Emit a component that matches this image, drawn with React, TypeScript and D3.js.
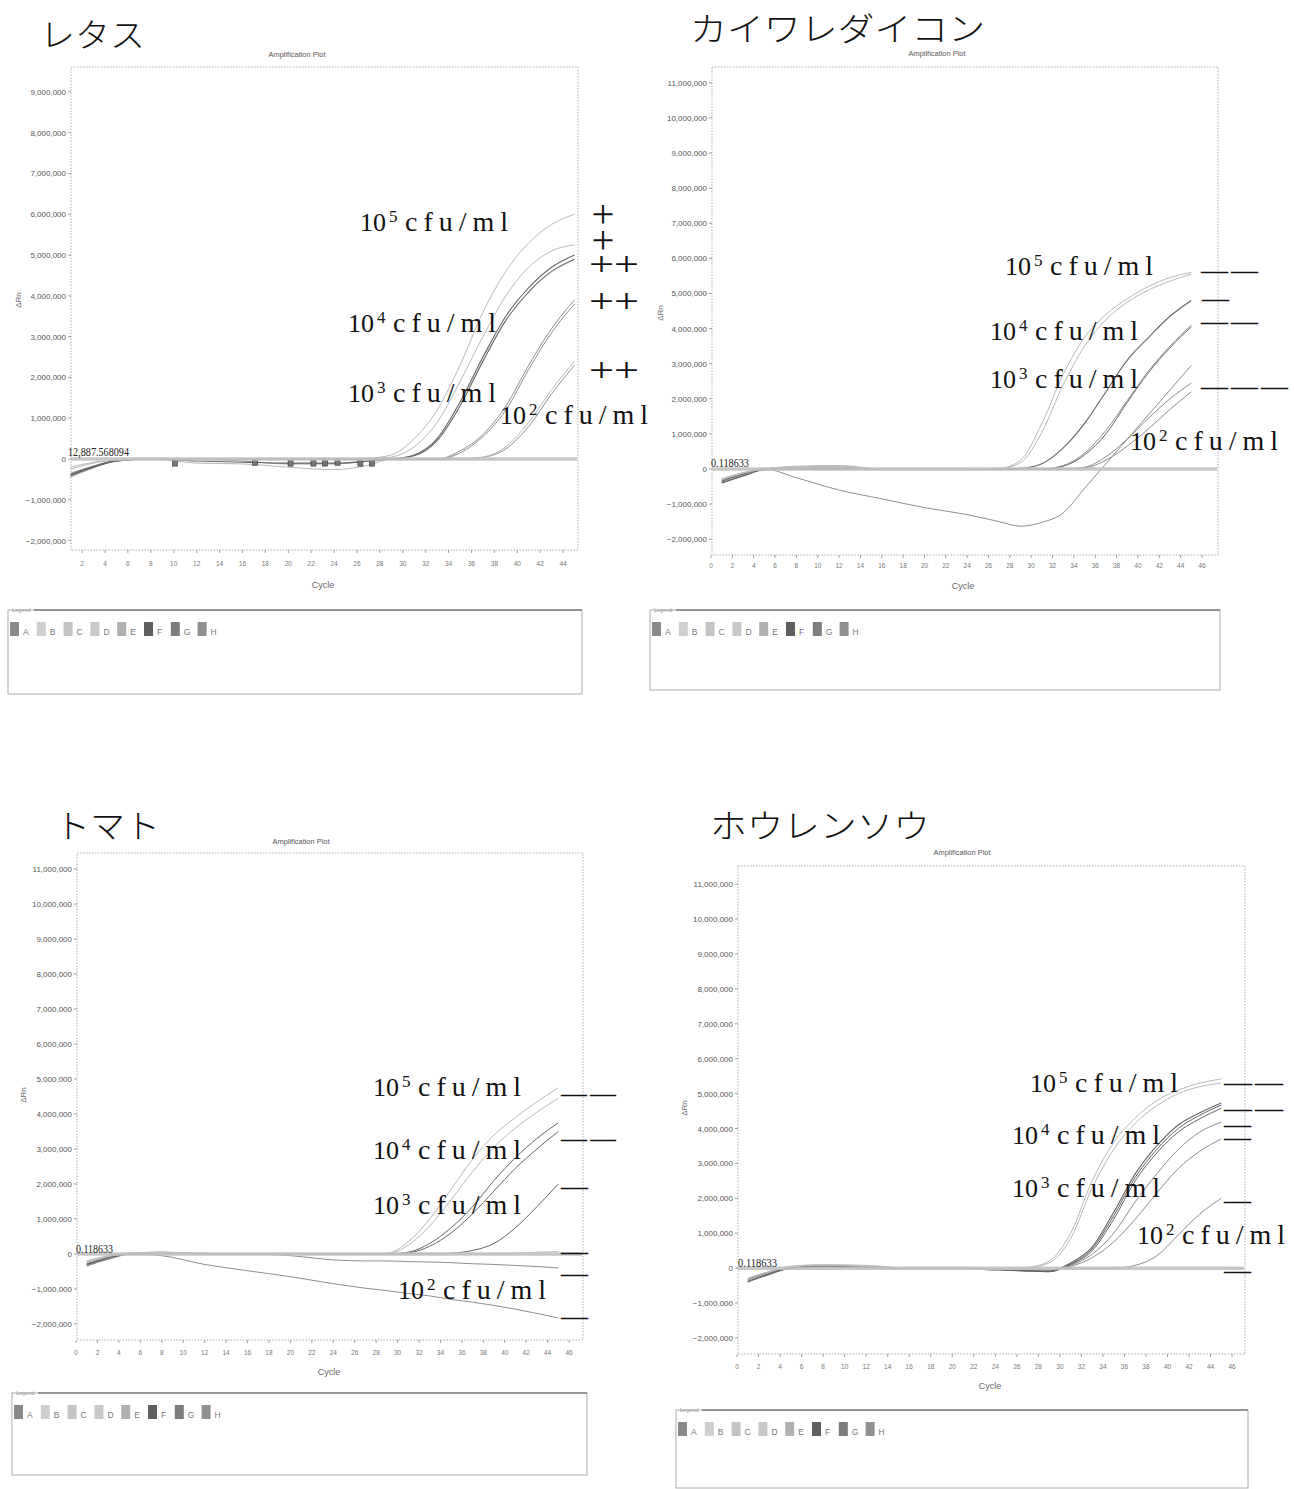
import React from "react";
import * as d3 from "d3";

// ---------- data (ΔRn in millions, read at these cycles) ----------
const CYCLES = [1, 3, 5, 8, 12, 16, 20, 24, 27, 29, 31, 33, 35, 37, 39, 41, 43, 45];

const titles = ["レタス", "カイワレダイコン", "トマト", "ホウレンソウ"];
const thresholdLabels = ["12,887.568094", "0.118633", "0.118633", "0.118633"];
const legendKeys = ["A", "B", "C", "D", "E", "F", "G", "H"];
const exponents = ["5", "4", "3", "2"];

const yTicksA = [-2, -1, 0, 1, 2, 3, 4, 5, 6, 7, 8, 9];
const yTicksB = [-2, -1, 0, 1, 2, 3, 4, 5, 6, 7, 8, 9, 10, 11];
const xTicksA = [2, 4, 6, 8, 10, 12, 14, 16, 18, 20, 22, 24, 26, 28, 30, 32, 34, 36, 38, 40, 42, 44];
const xTicksB = [0, 2, 4, 6, 8, 10, 12, 14, 16, 18, 20, 22, 24, 26, 28, 30, 32, 34, 36, 38, 40, 42, 44, 46];

// レタス
const lettuceA = [-0.25, -0.1, -0.02, 0, 0, 0, 0, 0, 0.02, 0.1, 0.5, 1.2, 2.3, 3.6, 4.6, 5.3, 5.75, 6.0];
const lettuceB = [-0.2, -0.08, -0.02, 0, 0, 0, 0, 0, 0.01, 0.05, 0.3, 0.9, 1.9, 3.0, 4.0, 4.7, 5.1, 5.25];
const lettuceC = [-0.4, -0.2, -0.05, 0, -0.05, -0.08, -0.1, -0.1, -0.05, 0, 0.1, 0.5, 1.4, 2.5, 3.5, 4.2, 4.7, 5.0];
const lettuceD = [-0.38, -0.18, -0.04, 0, 0, 0, 0, 0, 0, 0, 0.08, 0.45, 1.3, 2.4, 3.4, 4.1, 4.6, 4.9];
const lettuceE = [-0.42, -0.2, -0.05, 0, 0, -0.05, -0.12, -0.12, -0.05, 0, 0, 0, 0.2, 0.6, 1.3, 2.3, 3.2, 3.9];
const lettuceF = [-0.35, -0.17, -0.04, 0, 0, 0, 0, 0, 0, 0, 0, 0, 0.15, 0.55, 1.2, 2.2, 3.1, 3.8];
const lettuceG = [-0.45, -0.22, -0.05, 0, -0.1, -0.12, -0.2, -0.26, -0.15, 0, 0, 0, 0, 0.05, 0.3, 0.9, 1.7, 2.4];
const lettuceH = [-0.4, -0.2, -0.05, 0, 0, 0, 0, 0, 0, 0, 0, 0, 0, 0.04, 0.25, 0.8, 1.6, 2.3];
const lettuceMarkerCycles = [10.1, 17.1, 20.2, 22.2, 23.2, 24.3, 26.3, 27.3];
const lettuceMarkerValues = [-0.1, -0.08, -0.1, -0.1, -0.1, -0.08, -0.1, -0.1];

// カイワレダイコン
const radishA = [-0.3, -0.12, 0, 0.08, 0.1, 0, 0, 0, 0.02, 0.25, 1.3, 2.7, 3.75, 4.4, 4.85, 5.2, 5.45, 5.6];
const radishB = [-0.28, -0.1, 0, 0.05, 0.08, 0, 0, 0, 0.01, 0.18, 1.05, 2.4, 3.5, 4.25, 4.75, 5.1, 5.35, 5.55];
const radishC = [-0.4, -0.2, -0.02, 0, 0, 0, 0, 0, 0, 0.02, 0.15, 0.6, 1.3, 2.2, 3.1, 3.75, 4.35, 4.8];
const radishD = [-0.38, -0.18, -0.02, 0, 0, 0, 0, 0, 0, 0, 0, 0.1, 0.45, 1.1, 1.95, 2.8, 3.5, 4.1];
const radishE = [-0.35, -0.15, 0, 0, 0, 0, 0, 0, 0, 0, 0, 0.08, 0.4, 1.0, 1.9, 2.75, 3.45, 4.05];
const radishF = [-0.3, -0.12, 0, 0.05, 0.05, 0, 0, 0, 0, 0, 0, 0, 0.05, 0.35, 0.85, 1.45, 2.0, 2.45];
const radishG = [-0.33, -0.15, 0, 0, 0, 0, 0, 0, 0, 0, 0, 0, 0.03, 0.25, 0.65, 1.15, 1.7, 2.2];
const radishH = [-0.4, -0.2, 0, -0.25, -0.6, -0.85, -1.1, -1.3, -1.5, -1.63, -1.52, -1.25, -0.55, 0.15, 0.85, 1.55, 2.25, 2.95];

// トマト
const tomatoA = [-0.25, -0.08, 0.02, 0.05, 0, 0, 0, 0, 0, 0.02, 0.35, 1.0, 1.85, 2.7, 3.4, 3.9, 4.35, 4.75];
const tomatoB = [-0.22, -0.06, 0.02, 0.04, 0, 0, 0, 0, 0, 0.01, 0.25, 0.8, 1.55, 2.35, 3.05, 3.6, 4.05, 4.45];
const tomatoC = [-0.3, -0.1, 0, 0.03, 0, 0, 0, 0, 0, 0, 0.05, 0.3, 0.75, 1.35, 2.1, 2.75, 3.3, 3.75];
const tomatoD = [-0.28, -0.1, 0, 0.02, 0, 0, 0, 0, 0, 0, 0.03, 0.22, 0.6, 1.15, 1.8, 2.45, 3.0, 3.5];
const tomatoE = [-0.32, -0.12, 0, 0.03, 0, 0, 0, 0, 0, 0, 0, 0, 0.02, 0.1, 0.3, 0.75, 1.35, 2.0];
const tomatoF = [-0.2, -0.05, 0.02, 0.05, 0.02, 0, 0, 0, 0, 0, 0, 0, 0, 0, 0, 0.02, 0.05, 0.07];
const tomatoG = [-0.3, -0.15, 0, 0.05, 0, 0, -0.05, -0.17, -0.2, -0.2, -0.22, -0.23, -0.25, -0.28, -0.3, -0.33, -0.36, -0.4];
const tomatoH = [-0.35, -0.15, 0, -0.05, -0.3, -0.48, -0.65, -0.85, -0.98, -1.05, -1.13, -1.2, -1.3, -1.38, -1.47, -1.58, -1.7, -1.83];

// ホウレンソウ
const spinachA = [-0.35, -0.12, 0.05, 0.1, 0.08, 0, 0, -0.05, 0.02, 0.2, 1.0, 2.5, 3.6, 4.3, 4.8, 5.1, 5.3, 5.42];
const spinachB = [-0.3, -0.1, 0.05, 0.08, 0.05, 0, 0, -0.05, 0.01, 0.15, 0.85, 2.3, 3.4, 4.15, 4.65, 5.0, 5.2, 5.3];
const spinachC = [-0.4, -0.18, 0, 0.05, 0.05, 0, 0, -0.05, -0.08, -0.1, 0.15, 0.6, 1.6, 2.7, 3.5, 4.1, 4.45, 4.73];
const spinachD = [-0.38, -0.15, 0, 0.05, 0.03, 0, 0, -0.05, -0.08, -0.08, 0.12, 0.55, 1.5, 2.6, 3.4, 4.0, 4.38, 4.67];
const spinachE = [-0.35, -0.15, 0, 0.03, 0.03, 0, 0, -0.05, -0.08, -0.1, 0.1, 0.5, 1.4, 2.5, 3.3, 3.9, 4.28, 4.58];
const spinachF = [-0.33, -0.12, 0, 0.05, 0.03, 0, 0, -0.03, -0.05, -0.05, 0.08, 0.4, 1.0, 1.9, 2.7, 3.4, 3.9, 4.18];
const spinachG = [-0.3, -0.1, 0, 0.03, 0.02, 0, 0, -0.03, -0.05, -0.05, 0.05, 0.3, 0.75, 1.4, 2.15, 2.85, 3.35, 3.7];
const spinachH = [-0.35, -0.12, 0, 0.03, 0.02, 0, 0, -0.02, -0.03, -0.03, 0, 0, 0, 0.08, 0.35, 0.95, 1.55, 2.0];

// ---------- styles ----------
const LIGHT = "#b8b8b8";
const MID = "#8e8e8e";
const DARK = "#656565";
const legendShades = ["#8a8a8a", "#cfcfcf", "#c4c4c4", "#c9c9c9", "#b0b0b0", "#5f5f5f", "#7d7d7d", "#8f8f8f"];
const SERIF = "'Liberation Serif','DejaVu Serif',serif";
const SANS = "'Liberation Sans','Arial',sans-serif";
const JP = "'Noto Sans CJK JP','Noto Sans CJK SC',sans-serif";

type Series = { v: number[]; c: string; w: number };
type Ann = { x: number; b: number };
type Dash = { x: number; y: number; n: number; w: number };
type Plus = { x: number; y: number; t: string; vertical?: boolean };
type Cfg = {
  title: string; tx: number; tb: number; tw: number;
  ampX: number; ampY: number;
  L: number; T: number; R: number; B: number;
  xd: [number, number]; yd: [number, number];
  xt: number[]; yt: number[];
  thr: string; thrX: number; thrY: number; thrW: number;
  lg: { x: number; y: number; w: number; h: number };
  rnX: number; rnY: number; cyX: number; cyY: number; xtY: number;
  series: Series[];
  ann: Ann[]; dashes: Dash[]; plus: Plus[];
  markers?: { c: number[]; v: number[] };
};

const fmt = d3.format(",");

function DashMarks({ d }: { d: Dash }) {
  const gap = 5;
  const dw = (d.w - (d.n - 1) * gap) / d.n;
  return (
    <g>
      {d3.range(d.n).map((k) => (
        <text
          key={k}
          x={d.x + k * (dw + gap)}
          y={d.y + 3}
          fontFamily={SERIF}
          fontSize={11}
          textLength={dw}
          lengthAdjust="spacingAndGlyphs"
          fill="#111"
          stroke="#111"
          strokeWidth={0.9}
        >
          —
        </text>
      ))}
    </g>
  );
}

function PlusMark({ p }: { p: Plus }) {
  if (p.vertical) {
    // stacked pair of "+" set as one vertical run of text
    return (
      <text
        x={p.x}
        y={p.y - 11}
        fontFamily={SERIF}
        fontSize={40}
        fill="#111"
        letterSpacing={3.4}
        style={{ writingMode: "vertical-rl" as any }}
      >
        {p.t}
      </text>
    );
  }
  return (
    <text x={p.x} y={p.y + 9} fontFamily={SERIF} fontSize={33} textAnchor="middle" textLength={p.t.length * 25} lengthAdjust="spacingAndGlyphs" fill="#111">
      {p.t}
    </text>
  );
}

function Panel({ cfg }: { cfg: Cfg }) {
  const x = d3.scaleLinear().domain(cfg.xd).range([cfg.L, cfg.R]);
  const y = d3.scaleLinear().domain(cfg.yd).range([cfg.B, cfg.T]);
  const line = d3
    .line<number>()
    .x((_, i) => x(CYCLES[i]))
    .y((d) => y(d))
    .curve(d3.curveMonotoneX);
  const { lg } = cfg;
  return (
    <g>
      <text x={cfg.tx} y={cfg.tb} fontFamily={JP} fontWeight={300} fontSize={33} textLength={cfg.tw} lengthAdjust="spacingAndGlyphs" fill="#111">
        {cfg.title}
      </text>
      <text x={cfg.ampX} y={cfg.ampY} fontFamily={SANS} fontSize={8} textAnchor="middle" textLength={57} lengthAdjust="spacingAndGlyphs" fill="#555">
        Amplification Plot
      </text>
      <rect x={cfg.L} y={cfg.T} width={cfg.R - cfg.L} height={cfg.B - cfg.T} fill="none" stroke="#9a9a9a" strokeWidth={0.8} strokeDasharray="1.5,1.5" />
      {cfg.yt.map((t) => (
        <g key={"y" + t}>
          <line x1={cfg.L - 3} x2={cfg.L} y1={y(t)} y2={y(t)} stroke="#888" strokeWidth={0.8} />
          <text x={cfg.L - 5} y={y(t) + 3} fontFamily={SANS} fontSize={8} textAnchor="end" fill="#555">
            {fmt(t * 1e6)}
          </text>
        </g>
      ))}
      {cfg.xt.map((t) => (
        <g key={"x" + t}>
          <line x1={x(t)} x2={x(t)} y1={cfg.B} y2={cfg.B + 3} stroke="#888" strokeWidth={0.8} />
          <text x={x(t)} y={cfg.xtY} fontFamily={SANS} fontSize={6.5} textAnchor="middle" fill="#777">
            {t}
          </text>
        </g>
      ))}
      <text x={cfg.cyX} y={cfg.cyY} fontFamily={SANS} fontSize={9} textAnchor="middle" fill="#666">
        Cycle
      </text>
      <text transform={`translate(${cfg.rnX},${cfg.rnY}) rotate(-90)`} fontFamily={SANS} fontSize={8} textAnchor="middle" fill="#666">
        ΔRn
      </text>
      {cfg.series.map((s, i) => (
        <path key={i} d={line(s.v) || ""} fill="none" stroke={s.c} strokeWidth={s.w} />
      ))}
      {cfg.markers &&
        cfg.markers.c.map((c, i) => (
          <rect key={"m" + i} x={x(c) - 2.5} y={y(cfg.markers!.v[i]) - 3} width={5} height={6} fill="#777" stroke="#333" strokeWidth={0.6} />
        ))}
      <line x1={cfg.L} x2={cfg.R - 1} y1={y(0)} y2={y(0)} stroke="#c2c2c2" strokeWidth={3.5} opacity={0.9} />
      <text x={cfg.thrX} y={cfg.thrY} fontFamily={SERIF} fontSize={13} textLength={cfg.thrW} lengthAdjust="spacingAndGlyphs" fill="#222">
        {cfg.thr}
      </text>
      {cfg.ann.map((a, i) => (
        <g key={"a" + i} fontFamily={SERIF} fill="#111">
          <text x={a.x} y={a.b} fontSize={26}>10</text>
          <text x={a.x + 29} y={a.b - 9} fontSize={17}>{exponents[i]}</text>
          <text x={a.x + 45} y={a.b} fontSize={28} textLength={103} lengthAdjust="spacing">cfu/ml</text>
        </g>
      ))}
      {cfg.dashes.map((d, i) => (
        <DashMarks key={"d" + i} d={d} />
      ))}
      {cfg.plus.map((p, i) => (
        <PlusMark key={"p" + i} p={p} />
      ))}
      <rect x={lg.x} y={lg.y} width={lg.w} height={lg.h} fill="none" stroke="#999" strokeWidth={0.8} />
      <line x1={lg.x + 26} x2={lg.x + lg.w} y1={lg.y} y2={lg.y} stroke="#555" strokeWidth={1.2} />
      <text x={lg.x + 4} y={lg.y + 2} fontFamily={SANS} fontSize={5.5} fill="#999">
        Legend
      </text>
      {legendKeys.map((k, i) => (
        <g key={k}>
          <rect x={lg.x + 2 + i * 26.8} y={lg.y + 12} width={9} height={14} fill={legendShades[i]} />
          <text x={lg.x + 15 + i * 26.8} y={lg.y + 25} fontFamily={SANS} fontSize={8.5} fill="#777">
            {k}
          </text>
        </g>
      ))}
    </g>
  );
}

export default function App() {
  const cfgs: Cfg[] = [
    {
      title: titles[0], tx: 40, tb: 47, tw: 105, ampX: 297, ampY: 57,
      L: 71, T: 67, R: 578, B: 550, xd: [1.03, 45.3], yd: [-2.23, 9.61], xt: xTicksA, yt: yTicksA,
      thr: thresholdLabels[0], thrX: 68, thrY: 456, thrW: 61,
      lg: { x: 8, y: 610, w: 574, h: 84 }, rnX: 21, rnY: 300, cyX: 323, cyY: 588, xtY: 566,
      series: [
        { v: lettuceH, c: MID, w: 1 }, { v: lettuceG, c: LIGHT, w: 1 },
        { v: lettuceF, c: MID, w: 1 }, { v: lettuceE, c: MID, w: 1 },
        { v: lettuceD, c: DARK, w: 1.1 }, { v: lettuceC, c: DARK, w: 1.1 },
        { v: lettuceB, c: LIGHT, w: 1 }, { v: lettuceA, c: LIGHT, w: 1 },
      ],
      markers: { c: lettuceMarkerCycles, v: lettuceMarkerValues },
      ann: [{ x: 360, b: 231 }, { x: 348, b: 332 }, { x: 348, b: 402 }, { x: 500, b: 424 }],
      dashes: [],
      plus: [
        { x: 603, y: 214, t: "++", vertical: true },
        { x: 614, y: 266, t: "++" }, { x: 614, y: 303, t: "++" }, { x: 614, y: 372, t: "++" },
      ],
    },
    {
      title: titles[1], tx: 690, tb: 41, tw: 295, ampX: 937, ampY: 56,
      L: 712, T: 67, R: 1218, B: 555, xd: [0.09, 47.5], yd: [-2.45, 11.45], xt: xTicksB, yt: yTicksB,
      thr: thresholdLabels[1], thrX: 711, thrY: 467, thrW: 38,
      lg: { x: 650, y: 610, w: 570, h: 80 }, rnX: 663, rnY: 313, cyX: 963, cyY: 589, xtY: 568,
      series: [
        { v: radishH, c: MID, w: 1 }, { v: radishG, c: MID, w: 1 },
        { v: radishF, c: MID, w: 1 }, { v: radishE, c: DARK, w: 1 },
        { v: radishD, c: MID, w: 1 }, { v: radishC, c: DARK, w: 1.1 },
        { v: radishB, c: LIGHT, w: 1 }, { v: radishA, c: LIGHT, w: 1 },
      ],
      ann: [{ x: 1005, b: 275 }, { x: 990, b: 340 }, { x: 990, b: 388 }, { x: 1130, b: 450 }],
      dashes: [
        { x: 1202, y: 272, n: 2, w: 55 }, { x: 1203, y: 300, n: 1, w: 25 },
        { x: 1202, y: 323, n: 2, w: 55 }, { x: 1202, y: 388, n: 3, w: 85 },
      ],
      plus: [],
    },
    {
      title: titles[2], tx: 55, tb: 838, tw: 105, ampX: 301, ampY: 844,
      L: 77, T: 853, R: 583, B: 1340, xd: [0.09, 47.3], yd: [-2.46, 11.46], xt: xTicksB, yt: yTicksB,
      thr: thresholdLabels[2], thrX: 76, thrY: 1253, thrW: 37,
      lg: { x: 12, y: 1393, w: 575, h: 82 }, rnX: 26, rnY: 1095, cyX: 329, cyY: 1375, xtY: 1355,
      series: [
        { v: tomatoH, c: MID, w: 1 }, { v: tomatoG, c: MID, w: 1 },
        { v: tomatoF, c: LIGHT, w: 1 }, { v: tomatoE, c: DARK, w: 1 },
        { v: tomatoD, c: DARK, w: 1 }, { v: tomatoC, c: DARK, w: 1 },
        { v: tomatoB, c: LIGHT, w: 1 }, { v: tomatoA, c: LIGHT, w: 1 },
      ],
      ann: [{ x: 373, b: 1096 }, { x: 373, b: 1159 }, { x: 373, b: 1214 }, { x: 398, b: 1299 }],
      dashes: [
        { x: 562, y: 1095, n: 2, w: 53 }, { x: 562, y: 1140, n: 2, w: 53 },
        { x: 562, y: 1188, n: 1, w: 25 }, { x: 562, y: 1253, n: 1, w: 25 },
        { x: 562, y: 1275, n: 1, w: 25 }, { x: 562, y: 1318, n: 1, w: 25 },
      ],
      plus: [],
    },
    {
      title: titles[3], tx: 710, tb: 838, tw: 220, ampX: 962, ampY: 855,
      L: 738, T: 866, R: 1245, B: 1354, xd: [0.09, 47.2], yd: [-2.46, 11.52], xt: xTicksB, yt: yTicksB,
      thr: thresholdLabels[3], thrX: 738, thrY: 1267, thrW: 39,
      lg: { x: 676, y: 1410, w: 572, h: 78 }, rnX: 687, rnY: 1108, cyX: 990, cyY: 1389, xtY: 1369,
      series: [
        { v: spinachH, c: MID, w: 1 }, { v: spinachG, c: MID, w: 1 },
        { v: spinachF, c: MID, w: 1 }, { v: spinachE, c: DARK, w: 1 },
        { v: spinachD, c: DARK, w: 1 }, { v: spinachC, c: DARK, w: 1.1 },
        { v: spinachB, c: LIGHT, w: 1 }, { v: spinachA, c: LIGHT, w: 1 },
      ],
      ann: [{ x: 1030, b: 1092 }, { x: 1012, b: 1144 }, { x: 1012, b: 1197 }, { x: 1137, b: 1244 }],
      dashes: [
        { x: 1225, y: 1084, n: 2, w: 57 }, { x: 1225, y: 1110, n: 2, w: 57 },
        { x: 1225, y: 1126, n: 1, w: 25 }, { x: 1225, y: 1139, n: 1, w: 25 },
        { x: 1225, y: 1202, n: 1, w: 25 }, { x: 1225, y: 1272, n: 1, w: 25 },
      ],
      plus: [],
    },
  ];
  return (
    <svg width={1294} height={1489} viewBox="0 0 1294 1489" style={{ position: "absolute", left: 0, top: 0, background: "#fff" }}>
      <rect x={0} y={0} width={1294} height={1489} fill="#fff" />
      {cfgs.map((c, i) => (
        <Panel key={i} cfg={c} />
      ))}
    </svg>
  );
}
